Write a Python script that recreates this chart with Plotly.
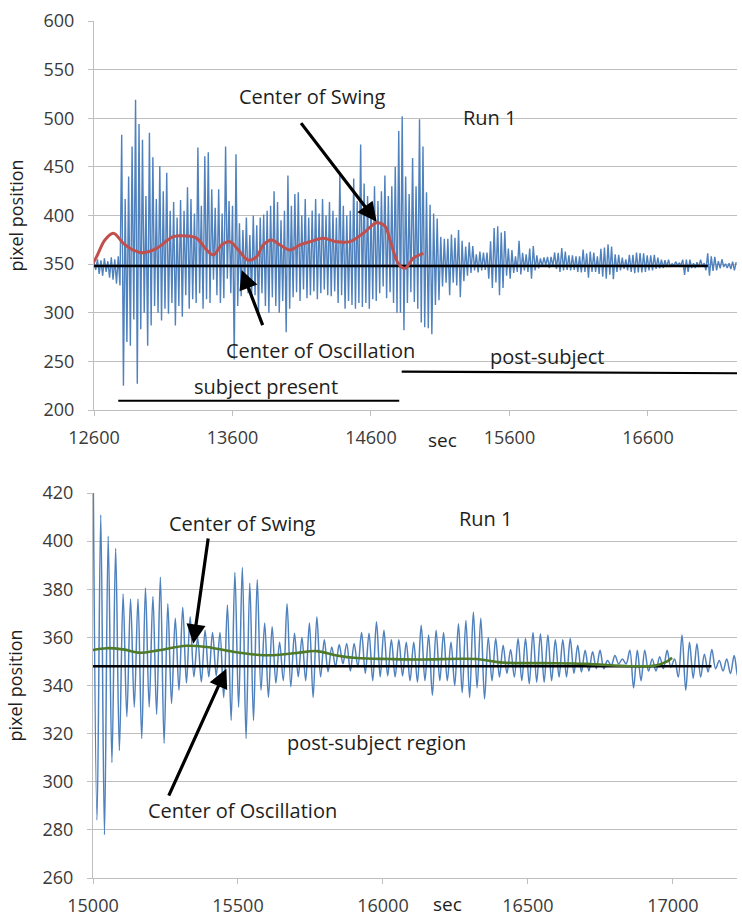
import numpy as np
import plotly.graph_objects as go

# ---------------- data ----------------
# Run 1, subject present part (12600 .. ~14990 s): alternating peak / trough values
top_pre_peaks = [352, 355, 354, 356, 353, 357, 355, 358, 483, 417,
                 440, 471, 519, 494, 478, 420, 485, 460, 417, 451,
                 425, 444, 405, 414, 398, 416, 405, 429, 417, 402,
                 470, 410, 461, 465, 427, 408, 427, 402, 471, 415,
                 410, 463, 392, 385, 398, 380, 400, 390, 398, 401,
                 405, 410, 425, 414, 395, 405, 441, 410, 422, 424,
                 400, 417, 398, 405, 417, 402, 417, 400, 414, 405,
                 398, 442, 410, 400, 405, 438, 415, 473, 433, 420,
                 410, 430, 415, 425, 441, 420, 430, 450, 487, 502,
                 440, 422, 459, 430, 499, 471]
top_pre_troughs = [344, 340, 338, 342, 336, 334, 330, 328, 225, 270,
                   266, 293, 227, 283, 300, 266, 287, 307, 300, 292,
                   304, 299, 310, 287, 307, 296, 318, 304, 314, 310,
                   320, 304, 314, 310, 334, 318, 310, 315, 335, 320,
                   252, 307, 317, 325, 320, 314, 318, 300, 320, 307,
                   300, 316, 307, 300, 312, 280, 304, 316, 321, 312,
                   324, 315, 318, 322, 314, 320, 324, 318, 317, 322,
                   310, 318, 304, 312, 308, 304, 310, 306, 310, 304,
                   314, 312, 320, 327, 315, 321, 310, 300, 300, 282,
                   310, 321, 311, 304, 290, 285]
top_pre_start, top_pre_end = 12600, 14988

# Run 1, post-subject part (15000 .. ~17240 s): alternating peak / trough values
post_peaks = [424, 411, 402, 397, 378, 376, 376, 380.5, 377, 385,
              374, 368, 372.5, 368.6, 360, 363, 362, 362, 373.5, 387,
              389, 382.5, 384, 366, 364.4, 358, 374, 361.7, 360, 366,
              368.6, 359, 356, 357, 357.5, 357.5, 362, 361.7, 366.5, 363,
              359, 359, 358,
              358, 365, 361, 363, 362, 358, 365.7, 367, 370.5, 368,
              360, 359.5, 356.7, 355, 359.5, 359.5, 362, 361.5, 361, 359,
              359, 359.5, 356.7, 354.6, 354, 354.6, 350.4, 352.5, 351, 354.6,
              354.6, 354.6, 351, 352, 354.6, 351, 361, 358, 357.4, 353,
              355, 350.4, 351, 352.5, 352]
post_troughs = [284, 278, 308, 313, 327, 331, 318, 331, 328, 316,
                332.5, 338, 341, 343.6, 341.5, 343.6, 344, 335, 325.5, 331,
                318, 325.5, 338, 335, 341, 342, 339.5, 343.6, 342, 335,
                343.6, 345.7, 347.8, 349, 346, 347.8, 345, 342, 343.6, 344,
                343.6, 344, 342,
                341.4, 342, 336, 342, 342, 340, 337, 335, 339, 334.4,
                342, 343.5, 345, 343.5, 342, 340.7, 341.4, 341.4, 342, 343.5,
                343.5, 345, 345.6, 346, 347, 347, 348.3, 349, 349, 339,
                342, 346, 346, 347, 347.6, 343.5, 338, 343, 343.5, 345.6,
                347, 346, 345, 343.5]
post_start, post_end = 15001, 17237

# Center of Swing (top, red)
swing_top_sec = [12586, 12619, 12679, 12740, 12812, 12884, 12956, 13052, 13173, 13269,
                 13342, 13414, 13462, 13522, 13582, 13642, 13714, 13775, 13822, 13883,
                 13943, 14015, 14087, 14160, 14256, 14352, 14448, 14544, 14641, 14701,
                 14737, 14797, 14845, 14905, 14978]
swing_top_val = [349, 357.7, 374.8, 381.7, 371.4, 364.5, 361.8, 366.2, 378.2, 378.9,
                 376.5, 364.5, 359.4, 369.7, 373.1, 364.5, 354.2, 357.7, 369.7, 374.8,
                 369.7, 364.5, 369.7, 373.1, 376.5, 373.1, 373.1, 381.7, 392.5, 389,
                 375, 350.8, 345.7, 356, 361.1]

# Center of Swing (bottom, green)
swing_bot_sec = [14965, 15047, 15104, 15162, 15220, 15323, 15392, 15483, 15564, 15622,
                 15702, 15771, 15840, 15909, 16024, 16128, 16323, 16414, 16552, 16700,
                 16850, 16940, 16980, 16997]
swing_bot_val = [353.9, 355.5, 355, 353.6, 354.5, 356.5, 356, 354, 352.8, 352.6,
                 353.5, 354.3, 352.5, 351.4, 351, 350.8, 351, 349.5, 349.3, 349,
                 348, 348.3, 350, 351.5]

# Center of Oscillation (black horizontal lines)
osc_value = 348
osc_top_sec = [12576, 17033]
osc_bot_sec = [14965, 17133]

# period bars
subject_present_sec = [12775, 14804]
subject_present_val = [209.5, 209.5]
post_subject_sec = [14822, 17243]
post_subject_val = [239.4, 237.8]

top_xticks = [12600, 13600, 14600, 15600, 16600]
bot_xticks = [15000, 15500, 16000, 16500, 17000]
top_yrange = [200, 600]
bot_yrange = [260, 420]


def interleave(peaks, troughs):
    out = []
    for i, p in enumerate(peaks):
        out.append(p)
        if i < len(troughs):
            out.append(troughs[i])
    return out


pre_y = interleave(top_pre_peaks, top_pre_troughs)
pre_x = list(np.linspace(top_pre_start, top_pre_end, len(pre_y)))
post_y = interleave(post_peaks, post_troughs)
post_x = list(np.linspace(post_start, post_end, len(post_y)))

top_x = pre_x + post_x
top_y = pre_y + post_y

BLUE = "#4F81BD"
RED = "#C0504D"
GREEN = "#4F7A28"
GRID = "#BFBFBF"
FONT = "Open Sans"
TXT = "#1E1E1E"
TICK = "#3A3A3A"

fig = go.Figure()
fig.add_trace(go.Scatter(x=top_x, y=top_y, mode="lines", line=dict(color=BLUE, width=1.4),
                         xaxis="x", yaxis="y", showlegend=False))
fig.add_trace(go.Scatter(x=osc_top_sec, y=[osc_value] * 2, mode="lines",
                         line=dict(color="black", width=2.6), xaxis="x", yaxis="y", showlegend=False))
fig.add_trace(go.Scatter(x=swing_top_sec, y=swing_top_val, mode="lines", line_shape="spline",
                         line=dict(color=RED, width=3), xaxis="x", yaxis="y", showlegend=False))
fig.add_trace(go.Scatter(x=subject_present_sec, y=subject_present_val, mode="lines",
                         line=dict(color="black", width=2.2), xaxis="x", yaxis="y", showlegend=False))
fig.add_trace(go.Scatter(x=post_subject_sec, y=post_subject_val, mode="lines",
                         line=dict(color="black", width=2.2), xaxis="x", yaxis="y", showlegend=False))

fig.add_trace(go.Scatter(x=post_x, y=post_y, mode="lines", line_shape="spline",
                         line=dict(color=BLUE, width=1.5), xaxis="x2", yaxis="y2", showlegend=False))
fig.add_trace(go.Scatter(x=osc_bot_sec, y=[osc_value] * 2, mode="lines",
                         line=dict(color="black", width=2.4), xaxis="x2", yaxis="y2", showlegend=False))
fig.add_trace(go.Scatter(x=swing_bot_sec, y=swing_bot_val, mode="lines", line_shape="spline",
                         line=dict(color=GREEN, width=2.6), xaxis="x2", yaxis="y2", showlegend=False))

axis_common = dict(showline=True, linecolor=GRID, linewidth=1, ticks="outside", ticklen=5,
                   tickcolor=GRID, tickfont=dict(family=FONT, size=18, color=TICK), zeroline=False,
                   automargin=False)

ytitle = dict(text="pixel position", font=dict(family=FONT, size=18, color=TXT))

fig.update_layout(
    width=742, height=917, margin=dict(l=0, r=0, t=0, b=0),
    paper_bgcolor="white", plot_bgcolor="white",
    xaxis=dict(domain=[94 / 742, 737 / 742], range=[12600, 17243], tickvals=top_xticks,
               tickformat="d", showgrid=False, anchor="y", ticklabelstandoff=6, **axis_common),
    yaxis=dict(domain=[1 - 410 / 917, 1 - 21 / 917], range=top_yrange, dtick=50,
               showgrid=True, gridcolor=GRID, gridwidth=1, anchor="x", ticklabelstandoff=10,
               title=ytitle, **axis_common),
    xaxis2=dict(domain=[93 / 742, 737 / 742], range=[15000, 17221], tickvals=bot_xticks,
                tickformat="d", showgrid=False, anchor="y2", ticklabelstandoff=6, **axis_common),
    yaxis2=dict(domain=[1 - 878 / 917, 1 - 493 / 917], range=bot_yrange, dtick=20,
                showgrid=True, gridcolor=GRID, gridwidth=1, anchor="x2", ticklabelstandoff=10,
                title=ytitle, **axis_common),
)

ANN = 20
# text labels: (text, x, y, xref, yref)
labels = [
    ("Center of Swing", 14177, 521.9, "x", "y"),
    ("Run 1", 15459, 500.3, "x", "y"),
    ("Center of Oscillation", 14235, 261.7, "x", "y"),
    ("subject present", 13842, 224, "x", "y"),
    ("post-subject", 15871, 255.5, "x", "y"),
    ("Center of Swing", 15517, 407.3, "x2", "y2"),
    ("Run 1", 16355, 409.4, "x2", "y2"),
    ("post-subject region", 15978, 316.5, "x2", "y2"),
    ("Center of Oscillation", 15517, 288, "x2", "y2"),
]
for t, x, y, xr, yr in labels:
    fig.add_annotation(text=t, x=x, y=y, xref=xr, yref=yr, showarrow=False,
                       font=dict(family=FONT, size=ANN, color=TXT))

# axis unit labels below the plot area (value below the axis range -> domain fraction)
unit_labels = [
    ("sec", 15120, 169.2, "x", "y domain", top_yrange),
    ("sec", 16223, 249.0, "x2", "y2 domain", bot_yrange),
]
for t, x, y, xr, yr, rng in unit_labels:
    fig.add_annotation(text=t, x=x, y=(y - rng[0]) / (rng[1] - rng[0]), xref=xr, yref=yr,
                       xanchor="center", yanchor="middle",
                       showarrow=False, font=dict(family=FONT, size=19, color=TXT))

# arrows: (head x, head y, tail x, tail y, xref, yref)
arrows = [
    (14641, 393.6, 14087, 496.5, "x", "y"),
    (13666, 344, 13822, 285.7, "x", "y"),
    (15346, 357.4, 15398, 401.7, "x2", "y2"),
    (15460, 347, 15259, 293.6, "x2", "y2"),
]
for hx, hy, tx, ty, xr, yr in arrows:
    fig.add_annotation(text="", x=hx, y=hy, ax=tx, ay=ty, xref=xr, yref=yr, axref=xr, ayref=yr,
                       showarrow=True, arrowhead=2, arrowsize=1.2, arrowwidth=3.2, arrowcolor="black",
                       standoff=0)

fig.write_html("out.html", config={"displayModeBar": False},
               post_script="document.body.style.margin='0px';document.body.style.overflow='hidden';")
